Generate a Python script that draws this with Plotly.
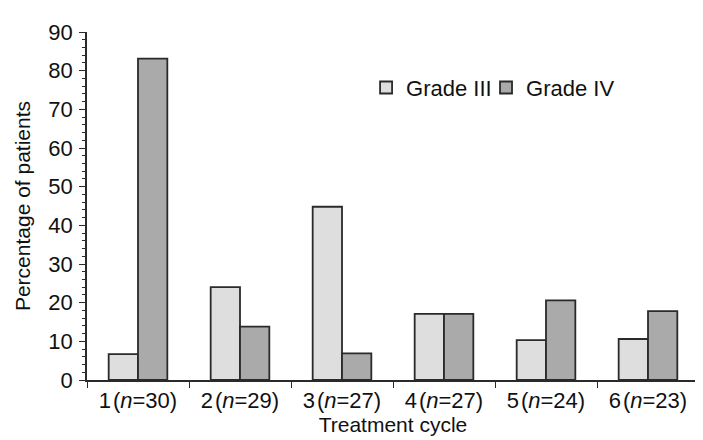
"""Grade III/IV toxicity by treatment cycle, grouped bars."""

import plotly.graph_objects as go

cycles = ["1", "2", "3", "4", "5", "6"]
n_patients = [30, 29, 27, 27, 24, 23]
grade_iii = [6.7, 24.0, 44.8, 17.1, 10.3, 10.6]
grade_iv = [83.1, 13.8, 6.9, 17.1, 20.6, 17.8]

labels = [f"{c}\u200a(<i>n</i>={n})" for c, n in zip(cycles, n_patients)]

FONT = "Liberation Sans, Arial, sans-serif"
EDGE = "#2a2a2a"
FS = 22

fig = go.Figure()
fig.add_trace(go.Bar(x=labels, y=grade_iii, name="Grade III", legend="legend",
                     marker=dict(color="#dedede", line=dict(color=EDGE, width=1.8))))
fig.add_trace(go.Bar(x=labels, y=grade_iv, name="Grade IV", legend="legend2",
                     marker=dict(color="#aaaaaa", line=dict(color=EDGE, width=1.8))))

# two single-entry legends so each item can sit where the original has it
leg = dict(orientation="h", y=0.84, xanchor="left", yanchor="middle",
           font=dict(size=FS), itemwidth=30, bgcolor="rgba(0,0,0,0)")

fig.update_layout(
    width=703, height=440,
    margin=dict(l=79, r=12, t=21, b=68),
    paper_bgcolor="white", plot_bgcolor="white",
    font=dict(family=FONT, size=FS, color="#111111"),
    barmode="group", bargap=0.425, bargroupgap=0,
    showlegend=True,
    legend=dict(leg, x=0.456),
    legend2=dict(leg, x=0.652),
)
fig.update_xaxes(
    showline=True, linecolor=EDGE, linewidth=1.5,
    ticks="outside", tickson="boundaries", ticklen=6, tickcolor=EDGE,
    showgrid=False,
    title=dict(text="Treatment cycle", standoff=0, font=dict(size=21)),
    tickfont=dict(size=FS),
)
fig.update_yaxes(
    range=[0, 90], dtick=10,
    showline=True, linecolor=EDGE, linewidth=1.5,
    ticks="outside", ticklen=6, tickcolor=EDGE,
    minor=dict(dtick=2, ticks="outside", ticklen=3, tickcolor=EDGE, showgrid=False),
    showgrid=False, zeroline=False,
    ticklabelstandoff=2,
    title=dict(text="Percentage of patients", standoff=12, font=dict(size=21)),
    tickfont=dict(size=FS),
)

fig.write_html("out.html")
